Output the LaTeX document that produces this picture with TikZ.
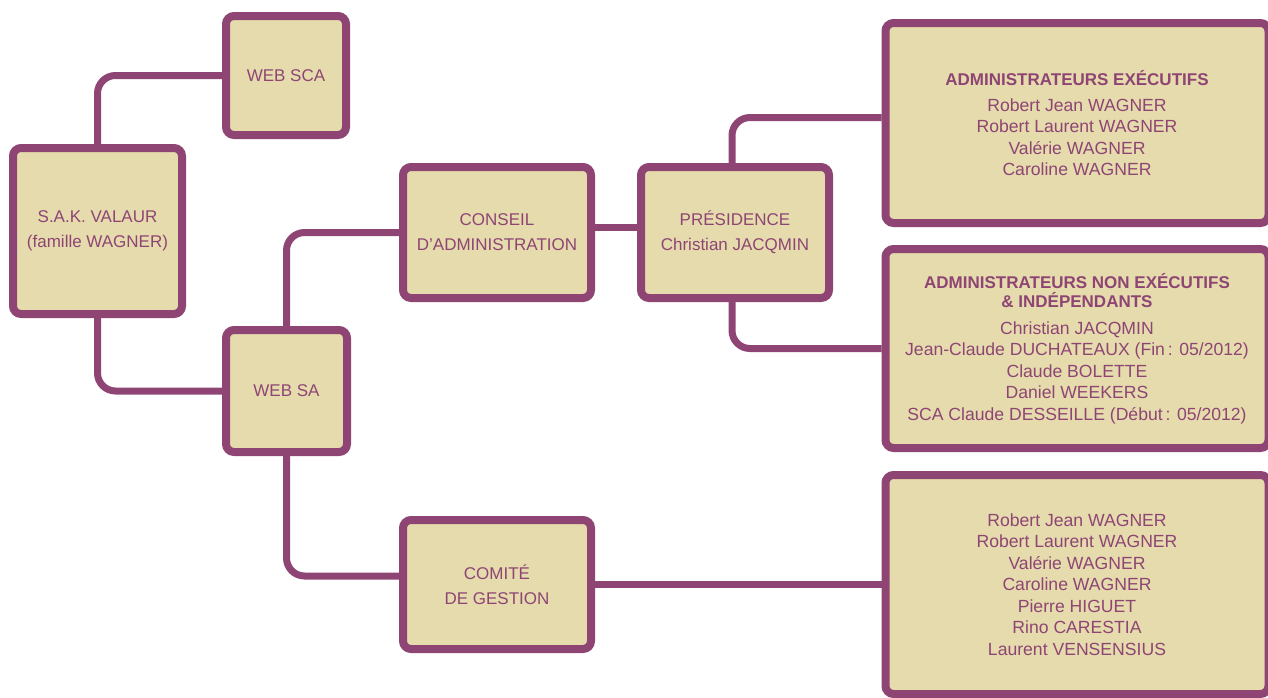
\documentclass[tikz,border=0pt]{standalone}
\usepackage{fontspec}
\setmainfont{Liberation Sans}
\usepackage{xcolor}
\usepackage{tikz}

\definecolor{valaurpurple}{RGB}{143,69,116}
\definecolor{valaurbeige}{RGB}{229,219,173}

\begin{document}
\begin{tikzpicture}[x=1pt, y=-1pt,
        box/.style={draw=valaurpurple, fill=valaurbeige, line width=8pt, rounded corners=8pt,
            text=valaurpurple, align=center, inner sep=0pt, font=\fontsize{17}{25}\selectfont},
        bigbox/.style={box, minimum width=383pt, font=\fontsize{17.6}{21.5}\selectfont},
        link/.style={draw=valaurpurple, line width=7pt, rounded corners=18pt}]
                \useasboundingbox (0,0) rectangle (1268,697);

                \node[box, minimum width=120pt, minimum height=119pt] (websca) at (286, 75.5) {WEB SCA};
                \node[box, minimum width=169pt, minimum height=166pt] (sak) at (97.5, 231) {S.A.K. VALAUR\\(famille WAGNER)};
                \node[box, minimum width=121pt, minimum height=122pt] (websa) at (286.5, 391) {WEB SA};
                \node[box, minimum width=188pt, minimum height=131pt] (conseil) at (497, 232.5) {CONSEIL\\D'ADMINISTRATION};
                \node[box, minimum width=188pt, minimum height=131pt] (presidence) at (735, 232.5) {PRÉSIDENCE\\Christian JACQMIN};
                \node[box, minimum width=188pt, minimum height=129pt] (comite) at (497, 584.5) {COMITÉ\\DE GESTION};

                \node[bigbox, minimum height=200pt] (executifs) at (1077, 123) {\textbf{\fontsize{17}{19}\selectfont ADMINISTRATEURS EXÉCUTIFS}\\[4.5pt]
                    Robert Jean WAGNER\\Robert Laurent WAGNER\\Valérie WAGNER\\Caroline WAGNER};
                \node[bigbox, minimum height=199pt] (nonexecutifs) at (1077, 348.5) {\textbf{\fontsize{17}{19}\selectfont ADMINISTRATEURS NON EXÉCUTIFS}\\[-2.5pt]
                    \textbf{\fontsize{17}{19}\selectfont \& INDÉPENDANTS}\\[5.5pt]
                    Christian JACQMIN\\Jean-Claude DUCHATEAUX (Fin\,: 05/2012)\\Claude BOLETTE\\Daniel WEEKERS\\SCA Claude DESSEILLE (Début\,: 05/2012)};
                \node[bigbox, minimum height=219pt] (gestion) at (1077, 584.5) {Robert Jean WAGNER\\Robert Laurent WAGNER\\Valérie WAGNER\\Caroline WAGNER\\
                    Pierre HIGUET\\Rino CARESTIA\\Laurent VENSENSIUS};

                \draw[link] (sak.north) |- (websca.west);
                \draw[link] (sak.south) |- (websa.west);
                \draw[link] (websa.north) |- (conseil.west);
                \draw[link] (websa.south) |- ([yshift=8.5pt]comite.west);
                \draw[link] ([yshift=5pt]conseil.east) -- ([yshift=5pt]presidence.west);
                \draw[link] ([xshift=-3pt]presidence.north) |- ([yshift=5.5pt]executifs.west);
                \draw[link] ([xshift=-3pt]presidence.south) |- (nonexecutifs.west);
                \draw[link] (comite.east) -- (gestion.west);
            \end{tikzpicture}
\end{document}
